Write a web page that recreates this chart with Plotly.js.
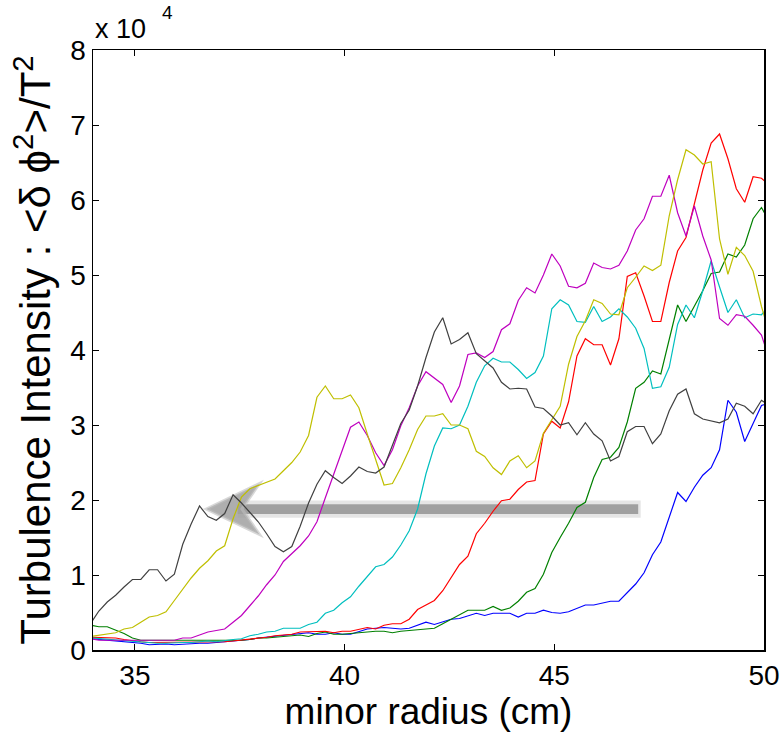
<!DOCTYPE html>
<html>
<head>
<meta charset="utf-8">
<script src="https://cdn.plot.ly/plotly-3.0.1.min.js"></script>
<style>html,body{margin:0;padding:0;background:#fff;}#chart{width:781px;height:738px;}</style>
</head>
<body>
<div id="chart"></div>
<script>
// minor radius (cm) sample positions
const radius = [33.94,34.14,34.34,34.54,34.74,34.94,35.14,35.34,35.54,35.74,
  35.94,36.14,36.34,36.54,36.74,36.94,37.14,37.34,37.54,37.74,
  37.94,38.14,38.34,38.54,38.74,38.94,39.14,39.34,39.54,39.74,
  39.94,40.14,40.34,40.54,40.74,40.94,41.14,41.34,41.54,41.74,
  41.94,42.14,42.34,42.54,42.74,42.94,43.14,43.34,43.54,43.74,
  43.94,44.14,44.34,44.54,44.74,44.94,45.14,45.34,45.54,45.74,
  45.94,46.14,46.34,46.54,46.74,46.94,47.14,47.34,47.54,47.74,
  47.94,48.14,48.34,48.54,48.74,48.94,49.14,49.34,49.54,49.74,
  49.94,50.14];

// Turbulence intensity, in units of 10^4
const blueSeries = [0.15,0.14,0.13,0.13,0.12,0.11,0.09,0.07,0.08,0.08,
  0.07,0.08,0.08,0.09,0.09,0.10,0.10,0.11,0.12,0.14,
  0.16,0.17,0.18,0.19,0.21,0.21,0.23,0.21,0.21,0.23,
  0.21,0.21,0.24,0.28,0.29,0.30,0.29,0.28,0.29,0.33,
  0.37,0.34,0.37,0.41,0.42,0.46,0.49,0.46,0.49,0.49,
  0.49,0.44,0.49,0.49,0.53,0.50,0.49,0.51,0.56,0.60,
  0.60,0.63,0.65,0.65,0.77,0.88,1.03,1.27,1.44,1.77,
  2.10,1.98,2.17,2.33,2.43,2.67,3.33,3.17,2.78,3.02,
  3.26,3.30];
const greenSeries = [0.33,0.31,0.31,0.27,0.22,0.16,0.13,0.13,0.13,0.12,
  0.12,0.12,0.12,0.12,0.12,0.12,0.13,0.13,0.13,0.14,
  0.16,0.16,0.17,0.18,0.20,0.20,0.18,0.22,0.24,0.21,
  0.21,0.22,0.24,0.25,0.25,0.25,0.23,0.25,0.26,0.26,
  0.28,0.29,0.35,0.41,0.46,0.53,0.53,0.53,0.58,0.53,
  0.56,0.65,0.77,0.82,1.01,1.30,1.50,1.69,1.90,1.97,
  2.30,2.54,2.57,2.70,3.04,3.49,3.57,3.72,3.68,4.14,
  4.60,4.38,4.58,4.79,5.02,5.04,5.28,5.24,5.40,5.75,
  5.90,5.70];
const redSeries = [0.17,0.17,0.17,0.16,0.14,0.12,0.11,0.10,0.10,0.10,
  0.10,0.10,0.10,0.10,0.10,0.10,0.11,0.12,0.13,0.14,
  0.16,0.17,0.19,0.20,0.21,0.24,0.24,0.24,0.25,0.23,
  0.25,0.25,0.28,0.30,0.28,0.33,0.35,0.35,0.41,0.54,
  0.60,0.66,0.79,0.97,1.14,1.25,1.55,1.69,1.85,1.99,
  2.01,2.14,2.24,2.26,2.88,3.05,2.96,3.31,3.92,4.15,
  4.07,4.07,3.80,4.15,4.98,5.03,4.72,4.38,4.38,4.90,
  5.32,5.50,5.95,6.40,6.76,6.88,6.55,6.15,5.97,6.31,
  6.29,6.19];
const cyanSeries = [0.16,0.15,0.14,0.13,0.12,0.11,0.10,0.10,0.09,0.09,
  0.10,0.10,0.10,0.11,0.12,0.11,0.13,0.14,0.15,0.19,
  0.21,0.24,0.25,0.29,0.29,0.29,0.34,0.37,0.49,0.53,
  0.63,0.71,0.85,0.98,1.11,1.14,1.24,1.40,1.59,1.88,
  2.35,2.72,2.96,2.95,3.00,3.25,3.57,3.79,3.89,3.84,
  3.84,3.74,3.62,3.70,3.92,4.55,4.67,4.60,4.38,4.37,
  4.58,4.38,4.44,4.55,4.44,4.29,4.02,3.49,3.51,3.77,
  4.34,4.60,4.43,4.79,5.19,4.84,4.50,4.67,4.43,4.48,
  4.47,4.60];
const magentaSeries = [0.15,0.13,0.13,0.13,0.13,0.13,0.12,0.12,0.13,0.13,
  0.13,0.16,0.16,0.20,0.24,0.26,0.28,0.37,0.46,0.59,
  0.72,0.87,1.00,1.18,1.29,1.39,1.52,1.71,2.03,2.35,
  2.68,2.97,3.04,2.86,2.63,2.46,2.67,2.99,3.23,3.52,
  3.71,3.62,3.54,3.30,3.52,3.94,3.96,3.90,3.98,4.27,
  4.35,4.66,4.83,4.76,5.00,5.28,5.12,4.85,4.83,4.89,
  5.16,5.10,5.08,5.13,5.32,5.60,5.75,6.05,6.05,6.33,
  5.83,5.52,5.92,5.52,5.20,4.42,4.33,4.47,4.45,4.33,
  4.20,3.85];
const yellowSeries = [0.18,0.20,0.21,0.23,0.28,0.30,0.37,0.44,0.46,0.51,
  0.66,0.81,0.96,1.09,1.19,1.32,1.39,1.75,2.04,2.15,
  2.19,2.24,2.28,2.39,2.50,2.64,2.86,3.37,3.52,3.35,
  3.35,3.40,3.23,2.88,2.54,2.20,2.22,2.43,2.67,2.94,
  3.12,3.12,3.15,3.00,3.00,2.95,2.65,2.58,2.43,2.34,
  2.52,2.59,2.43,2.52,2.89,3.07,3.25,3.81,4.18,4.39,
  4.67,4.62,4.48,4.47,4.83,4.97,5.12,5.06,5.13,5.79,
  6.27,6.67,6.60,6.48,6.51,5.48,5.01,5.37,5.26,5.05,
  4.58,4.20];
const blackSeries = [0.35,0.52,0.64,0.73,0.84,0.94,0.94,1.07,1.07,0.92,
  1.01,1.41,1.68,1.92,1.78,1.73,1.82,2.07,1.96,1.84,
  1.71,1.55,1.38,1.31,1.38,1.65,1.96,2.21,2.39,2.30,
  2.22,2.32,2.44,2.38,2.36,2.44,2.72,3.02,3.20,3.52,
  3.90,4.24,4.43,4.08,4.14,4.23,3.95,3.86,3.76,3.57,
  3.48,3.49,3.48,3.24,3.22,3.12,3.00,3.03,2.87,3.03,
  2.88,2.79,2.52,2.58,2.91,2.98,2.98,2.75,2.88,3.19,
  3.41,3.48,3.15,3.08,3.05,3.03,3.08,3.29,3.25,3.15,
  3.33,3.25];

const seriesList = [blueSeries, greenSeries, redSeries, cyanSeries, magentaSeries, yellowSeries, blackSeries];
const seriesColors = ['#0000ff', '#008000', '#ff0000', '#00bfbf', '#bf00bf', '#bfbf00', '#404040'];

const yTickVals = [0,1,2,3,4,5,6,7,8];
const yTickText = ['0','1','2','3','4','5','6','7','8'];
const xTickVals = [35,40,45,50];
const xTickText = ['35','40','45','50'];

const traces = seriesList.map((s, i) => ({
  x: radius, y: s, type: 'scatter', mode: 'lines',
  line: {color: seriesColors[i], width: 1.2},
  hoverinfo: 'skip', showlegend: false
}));

// decorative arrow (data coordinates)
const arrowBar = {x0: 37.45, x1: 47.0, y0: 1.815, y1: 1.945};
const arrowHead = {tipX: 36.70, tipY: 1.88, backX: 37.97, notchX: 37.55, topY: 2.22, botY: 1.54};
const headPath = 'M' + arrowHead.tipX + ',' + arrowHead.tipY +
  ' L' + arrowHead.backX + ',' + arrowHead.topY +
  ' L' + arrowHead.notchX + ',' + arrowHead.tipY +
  ' L' + arrowHead.backX + ',' + arrowHead.botY + ' Z';

const font = 'Liberation Sans, Arial, Helvetica, sans-serif';

const layout = {
  width: 781, height: 738,
  margin: {l: 93, r: 17, t: 50, b: 88},
  paper_bgcolor: '#ffffff', plot_bgcolor: '#ffffff',
  font: {family: font, color: '#000000'},
  showlegend: false,
  xaxis: {
    range: [34, 50], tickvals: xTickVals, ticktext: xTickText,
    ticks: 'inside', ticklen: 6, tickwidth: 1, tickcolor: '#000',
    showline: true, linecolor: '#000', linewidth: 1.5, mirror: 'ticks',
    showgrid: false, zeroline: false,
    tickfont: {size: 28, family: font},
    title: {text: 'minor radius (cm)', font: {size: 37, family: font}, standoff: 6},
    automargin: false
  },
  yaxis: {
    range: [0, 8], tickvals: yTickVals, ticktext: yTickText,
    ticks: 'inside', ticklen: 6, tickwidth: 1, tickcolor: '#000',
    showline: true, linecolor: '#000', linewidth: 1.5, mirror: 'ticks',
    showgrid: false, zeroline: false,
    tickfont: {size: 28, family: font},
    title: {text: 'Turbulence Intensity : &lt;δ ϕ<sup>2</sup>&gt;/T<sup>2</sup>', font: {size: 42, family: font}, standoff: 6},
    automargin: false
  },
  shapes: [
    {type: 'rect', xref: 'x', yref: 'y', layer: 'below', x0: arrowBar.x0, x1: arrowBar.x1 + 0.06,
     y0: arrowBar.y0 - 0.05, y1: arrowBar.y1 + 0.05, fillcolor: 'rgba(180,180,180,0.35)', line: {width: 0}},
    {type: 'rect', xref: 'x', yref: 'y', layer: 'below', x0: arrowBar.x0, x1: arrowBar.x1,
     y0: arrowBar.y0, y1: arrowBar.y1, fillcolor: '#a0a0a0', line: {width: 0}},
    {type: 'path', xref: 'x', yref: 'y', layer: 'below', path: headPath,
     fillcolor: 'rgba(160,160,160,0.85)', line: {color: 'rgba(190,190,190,0.6)', width: 3}}
  ],
  annotations: [
    {xref: 'paper', yref: 'paper', x: 0.0, y: 1.035, xanchor: 'left', yanchor: 'middle',
     text: 'x 10', showarrow: false, font: {size: 27, family: font, color: '#000'}},
    {xref: 'paper', yref: 'paper', x: 0.1, y: 1.062, xanchor: 'left', yanchor: 'middle',
     text: '4', showarrow: false, font: {size: 19, family: font, color: '#000'}}
  ]
};

Plotly.newPlot('chart', traces, layout, {staticPlot: true, displayModeBar: false});
</script>
</body>
</html>
